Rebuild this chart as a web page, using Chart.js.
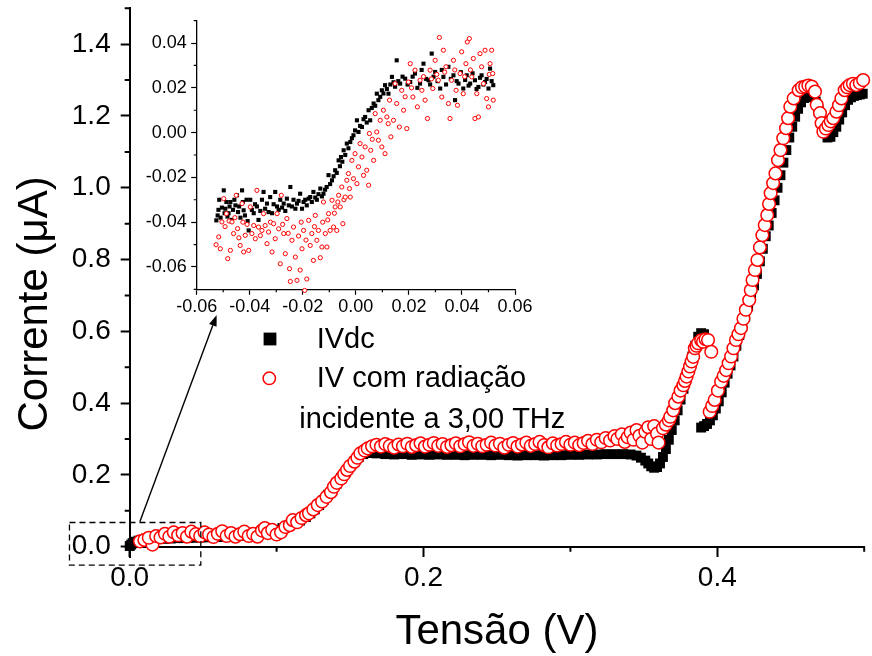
<!DOCTYPE html>
<html lang="pt">
<head>
<meta charset="utf-8">
<title>Corrente x Tensão</title>
<script src="https://cdn.jsdelivr.net/npm/chart.js@4.4.1/dist/chart.umd.min.js"></script>
<style>
  html, body { margin: 0; padding: 0; background: #ffffff; }
  #wrap { position: relative; width: 872px; height: 656px; }
  #mainChart, #insetChart { position: absolute; left: 0; top: 0; }
</style>
</head>
<body>
<div id="wrap">
  <canvas id="mainChart" width="872" height="656"></canvas>
  <canvas id="insetChart" width="545" height="330"></canvas>
</div>
<script>
/* ------------------------------------------------------------
   DADOS — curva I x V (V em volts, I em µA)
------------------------------------------------------------ */
const seriesNames = ['IVdc', 'IV com radiação', 'incidente a 3,00 THz'];

// IVdc — quadrados pretos (gráfico principal)
const ivdcPts = [
  [0.000,0.002],[0.001,0.006],[0.002,0.010],[0.004,0.014],[0.006,0.017],[0.009,0.019],[0.012,0.020],
  [0.016,0.021],[0.020,0.022],[0.024,0.022],[0.028,0.023],[0.032,0.024],[0.036,0.024],[0.040,0.025],
  [0.044,0.025],[0.048,0.026],[0.052,0.026],[0.056,0.027],[0.060,0.027],[0.064,0.028],[0.068,0.029],
  [0.072,0.030],[0.076,0.031],[0.080,0.033],[0.084,0.035],[0.088,0.037],[0.092,0.040],[0.096,0.043],
  [0.100,0.047],[0.104,0.052],[0.108,0.058],[0.112,0.065],[0.116,0.073],[0.120,0.083],[0.123,0.093],
  [0.126,0.104],[0.129,0.116],[0.132,0.130],[0.135,0.145],[0.138,0.160],[0.141,0.176],[0.144,0.192],
  [0.147,0.208],[0.150,0.224],[0.153,0.238],[0.156,0.250],[0.159,0.258],[0.163,0.261],[0.168,0.260],
  [0.174,0.258],[0.180,0.257],[0.186,0.258],[0.192,0.256],[0.198,0.257],[0.204,0.256],[0.210,0.257],
  [0.216,0.256],[0.222,0.256],[0.228,0.255],[0.234,0.256],[0.240,0.256],[0.246,0.255],[0.252,0.256],
  [0.258,0.255],[0.264,0.254],[0.270,0.255],[0.276,0.255],[0.282,0.254],[0.288,0.255],[0.294,0.255],
  [0.300,0.256],[0.306,0.256],[0.312,0.257],[0.318,0.257],[0.324,0.258],[0.330,0.258],[0.336,0.258],
  [0.341,0.257],[0.345,0.254],[0.348,0.248],[0.351,0.240],[0.353,0.232],[0.355,0.224],[0.357,0.220],
  [0.359,0.222],[0.361,0.232],[0.363,0.250],[0.365,0.272],[0.367,0.298],[0.369,0.325],[0.371,0.352],
  [0.373,0.380],[0.375,0.410],[0.377,0.440],[0.379,0.470],[0.381,0.500],[0.383,0.530],[0.385,0.560],
  [0.387,0.585],[0.389,0.595],[0.391,0.592],
  [0.389,0.332],[0.391,0.336],[0.393,0.342],[0.395,0.352],[0.397,0.366],[0.399,0.385],[0.401,0.405],
  [0.403,0.430],[0.405,0.457],[0.407,0.482],[0.409,0.505],[0.411,0.530],[0.413,0.560],[0.415,0.590],
  [0.417,0.615],[0.419,0.640],[0.421,0.670],[0.423,0.700],[0.425,0.728],[0.427,0.760],[0.429,0.795],
  [0.431,0.830],[0.433,0.865],[0.435,0.895],[0.437,0.930],[0.439,0.965],[0.441,1.000],[0.443,1.035],
  [0.445,1.070],[0.447,1.105],[0.449,1.140],[0.451,1.170],[0.453,1.198],[0.455,1.220],[0.457,1.238],
  [0.459,1.250],[0.461,1.255],[0.463,1.256],[0.465,1.252],[0.467,1.240],[0.469,1.215],[0.471,1.185],
  [0.473,1.155],[0.475,1.140],[0.477,1.142],[0.479,1.155],[0.481,1.170],[0.483,1.190],[0.485,1.210],
  [0.487,1.230],[0.489,1.245],[0.491,1.252],[0.493,1.256],[0.495,1.258],[0.497,1.260],[0.499,1.262],
];

// IV com radiação — círculos vermelhos (gráfico principal)
const ivRadPts = [
  [0.007,0.015],[0.010,0.019],[0.0155,0.006],[0.013,0.025],[0.018,0.030],[0.021,0.026],[0.024,0.036],
  [0.027,0.028],[0.030,0.040],[0.033,0.032],[0.036,0.038],[0.039,0.028],[0.042,0.042],[0.045,0.035],
  [0.048,0.030],[0.051,0.040],[0.054,0.034],[0.057,0.027],[0.060,0.036],[0.063,0.043],[0.066,0.030],
  [0.069,0.038],[0.072,0.028],[0.075,0.035],[0.078,0.042],[0.081,0.030],[0.084,0.036],[0.087,0.028],
  [0.090,0.045],[0.092,0.052],[0.094,0.038],[0.097,0.047],[0.100,0.034],[0.103,0.040],[0.106,0.055],
  [0.109,0.060],[0.111,0.074],[0.114,0.068],[0.117,0.080],[0.120,0.088],[0.122,0.093],[0.125,0.104],
  [0.128,0.116],[0.131,0.126],[0.134,0.139],[0.137,0.152],[0.139,0.167],[0.141,0.178],[0.144,0.190],
  [0.146,0.202],[0.148,0.214],[0.150,0.225],[0.153,0.237],[0.155,0.248],[0.157,0.260],[0.160,0.268],
  [0.162,0.274],[0.165,0.280],[0.168,0.284],[0.171,0.279],[0.174,0.286],[0.177,0.281],[0.180,0.276],
  [0.183,0.285],[0.186,0.280],[0.189,0.287],[0.192,0.278],[0.195,0.283],[0.198,0.288],[0.201,0.279],
  [0.204,0.284],[0.207,0.289],[0.210,0.281],[0.213,0.286],[0.216,0.278],[0.219,0.283],[0.222,0.288],
  [0.225,0.280],[0.228,0.286],[0.231,0.291],[0.234,0.281],[0.237,0.287],[0.240,0.280],[0.243,0.284],
  [0.246,0.290],[0.249,0.282],[0.252,0.287],[0.255,0.276],[0.258,0.284],[0.261,0.289],[0.264,0.279],
  [0.267,0.285],[0.270,0.290],[0.273,0.281],[0.276,0.286],[0.279,0.292],[0.282,0.283],[0.285,0.277],
  [0.288,0.288],[0.291,0.282],[0.294,0.286],[0.297,0.292],[0.300,0.284],[0.303,0.290],[0.306,0.283],
  [0.309,0.289],[0.312,0.295],[0.315,0.286],[0.318,0.298],[0.321,0.291],[0.324,0.303],[0.327,0.296],
  [0.330,0.308],[0.332,0.300],[0.335,0.313],[0.337,0.292],[0.339,0.305],[0.341,0.318],[0.343,0.298],
  [0.345,0.325],[0.347,0.309],[0.349,0.290],[0.351,0.320],[0.353,0.333],[0.355,0.300],[0.357,0.336],
  [0.359,0.315],[0.360,0.290],[0.363,0.330],[0.365,0.340],[0.367,0.352],[0.368,0.362],[0.370,0.380],
  [0.3713,0.400],[0.3735,0.418],[0.3750,0.435],[0.3769,0.450],[0.3780,0.462],[0.3791,0.474],
  [0.3803,0.488],[0.3814,0.502],[0.3825,0.516],[0.3836,0.529],[0.3847,0.553],[0.3858,0.560],
  [0.3869,0.567],[0.3890,0.575],[0.3903,0.571],[0.3920,0.578],[0.3937,0.576],[0.3959,0.543],
  [0.3948,0.376],[0.3965,0.392],[0.3982,0.409],[0.4004,0.435],[0.4026,0.460],[0.4043,0.476],
  [0.4060,0.492],[0.4077,0.511],[0.4094,0.530],[0.4110,0.553],[0.4127,0.576],[0.4144,0.592],
  [0.4161,0.609],[0.4178,0.635],[0.4194,0.660],[0.4217,0.687],[0.4228,0.715],[0.4240,0.743],
  [0.4256,0.771],[0.4273,0.799],[0.4290,0.834],[0.4307,0.868],[0.4323,0.896],[0.4340,0.924],
  [0.4352,0.955],[0.4363,0.985],[0.4380,1.013],[0.4396,1.040],[0.4413,1.077],[0.4430,1.105],
  [0.4449,1.138],[0.4468,1.166],[0.4482,1.194],[0.4497,1.226],[0.4520,1.249],[0.4554,1.272],
  [0.4576,1.280],[0.4598,1.282],[0.4620,1.285],[0.4643,1.282],[0.4665,1.268],[0.4677,1.231],
  [0.4699,1.208],[0.4710,1.180],[0.4722,1.156],[0.4739,1.165],[0.4756,1.175],[0.4772,1.185],
  [0.4789,1.194],[0.4811,1.212],[0.4828,1.230],[0.4845,1.249],[0.4867,1.272],[0.4884,1.280],
  [0.4901,1.286],[0.4923,1.290],[0.4946,1.286],[0.4970,1.292],[0.4993,1.300],
];

// Detalhe perto de V = 0 (gráfico inserido)
const insetDcPts = [
  [-0.0526,-0.0392],[-0.0521,-0.0370],[-0.0518,-0.0345],[-0.0515,-0.0300],[-0.0510,-0.0380],
  [-0.0505,-0.0335],[-0.0498,-0.0258],[-0.0495,-0.0360],[-0.0492,-0.0340],[-0.0488,-0.0310],
  [-0.0484,-0.0375],[-0.0480,-0.0360],[-0.0476,-0.0330],[-0.0473,-0.0310],[-0.0468,-0.0390],
  [-0.0463,-0.0345],[-0.0458,-0.0300],[-0.0454,-0.0325],[-0.0448,-0.0280],[-0.0444,-0.0355],
  [-0.0440,-0.0330],[-0.0435,-0.0380],[-0.0429,-0.0258],[-0.0426,-0.0310],[-0.0423,-0.0347],
  [-0.0418,-0.0370],[-0.0412,-0.0300],[-0.0408,-0.0395],[-0.0404,-0.0437],[-0.0398,-0.0300],
  [-0.0392,-0.0345],[-0.0385,-0.0360],[-0.0380,-0.0320],[-0.0373,-0.0330],[-0.0367,-0.0390],
  [-0.0360,-0.0350],[-0.0354,-0.0300],[-0.0348,-0.0265],[-0.0342,-0.0340],[-0.0335,-0.0317],
  [-0.0329,-0.0355],[-0.0323,-0.0288],[-0.0316,-0.0360],[-0.0310,-0.0320],[-0.0304,-0.0265],
  [-0.0297,-0.0330],[-0.0291,-0.0345],[-0.0285,-0.0300],[-0.0278,-0.0335],[-0.0272,-0.0317],
  [-0.0266,-0.0350],[-0.0260,-0.0295],[-0.0253,-0.0325],[-0.0247,-0.0243],[-0.0241,-0.0330],
  [-0.0235,-0.0300],[-0.0228,-0.0340],[-0.0222,-0.0317],[-0.0216,-0.0305],[-0.0210,-0.0273],
  [-0.0203,-0.0340],[-0.0197,-0.0310],[-0.0191,-0.0300],[-0.0185,-0.0325],[-0.0178,-0.0295],
  [-0.0172,-0.0288],[-0.0166,-0.0310],[-0.0160,-0.0265],[-0.0153,-0.0290],[-0.0147,-0.0300],
  [-0.0141,-0.0275],[-0.0134,-0.0250],[-0.0128,-0.0285],[-0.0122,-0.0273],[-0.0116,-0.0255],
  [-0.0110,-0.0243],[-0.0103,-0.0190],[-0.0097,-0.0230],[-0.0090,-0.0213],[-0.0084,-0.0195],
  [-0.0078,-0.0168],[-0.0072,-0.0180],[-0.0065,-0.0124],[-0.0060,-0.0150],[-0.0056,-0.0109],
  [-0.0051,-0.0130],[-0.0046,-0.0079],[-0.0040,-0.0100],[-0.0034,-0.0049],[-0.0028,-0.0070],
  [-0.0021,-0.0042],[-0.0015,-0.0025],[-0.0009,-0.0012],[-0.0003,0.0010],[0.0004,0.0055],
  [0.0010,0.0003],[0.0016,0.0030],[0.0023,0.0025],[0.0029,0.0060],[0.0035,0.0070],[0.0041,0.0045],
  [0.0048,0.0100],[0.0054,0.0055],[0.0060,0.0110],[0.0067,0.0130],[0.0073,0.0120],[0.0079,0.0174],
  [0.0085,0.0145],[0.0092,0.0160],[0.0098,0.0189],[0.0104,0.0175],[0.0110,0.0212],[0.0117,0.0195],
  [0.0123,0.0174],[0.0130,0.0215],[0.0136,0.0249],[0.0142,0.0225],[0.0148,0.0205],[0.0154,0.0323],
  [0.0160,0.0230],[0.0167,0.0219],[0.0176,0.0250],[0.0186,0.0241],[0.0195,0.0215],[0.0205,0.0226],
  [0.0214,0.0250],[0.0223,0.0264],[0.0232,0.0200],[0.0242,0.0219],[0.0248,0.0280],[0.0255,0.0308],
  [0.0265,0.0240],[0.0274,0.0234],[0.0280,0.0215],[0.0286,0.0353],[0.0293,0.0250],[0.0299,0.0271],
  [0.0308,0.0230],[0.0318,0.0197],[0.0324,0.0280],[0.0330,0.0249],[0.0340,0.0215],[0.0349,0.0294],
  [0.0358,0.0240],[0.0368,0.0256],[0.0374,0.0145],[0.0380,0.0230],[0.0387,0.0219],[0.0396,0.0270],
  [0.0405,0.0197],[0.0412,0.0235],[0.0418,0.0256],[0.0425,0.0210],[0.0431,0.0219],[0.0440,0.0265],
  [0.0449,0.0234],[0.0455,0.0195],[0.0462,0.0204],[0.0468,0.0245],[0.0474,0.0256],[0.0481,0.0215],
  [0.0487,0.0226],[0.0493,0.0240],[0.0500,0.0197],[0.0506,0.0286],[0.0512,0.0230],[0.0518,0.0212],
];

const insetRadPts = [
  [-0.0527,-0.0501],[-0.0517,-0.0466],[-0.0511,-0.0519],[-0.0505,-0.0399],[-0.0498,-0.0295],
  [-0.0493,-0.0420],[-0.0488,-0.0362],[-0.0483,-0.0563],[-0.0478,-0.0395],[-0.0473,-0.0526],
  [-0.0467,-0.0399],[-0.0461,-0.0451],[-0.0456,-0.0380],[-0.0451,-0.0280],[-0.0446,-0.0429],
  [-0.0441,-0.0470],[-0.0436,-0.0504],[-0.0429,-0.0317],[-0.0426,-0.0400],[-0.0423,-0.0533],
  [-0.0417,-0.0459],[-0.0410,-0.0410],[-0.0404,-0.0526],[-0.0398,-0.0332],[-0.0392,-0.0451],
  [-0.0385,-0.0415],[-0.0379,-0.0474],[-0.0373,-0.0258],[-0.0367,-0.0422],[-0.0360,-0.0460],
  [-0.0354,-0.0437],[-0.0348,-0.0362],[-0.0342,-0.0415],[-0.0335,-0.0496],[-0.0329,-0.0444],
  [-0.0322,-0.0400],[-0.0316,-0.0533],[-0.0310,-0.0407],[-0.0304,-0.0474],[-0.0297,-0.0362],
  [-0.0291,-0.0430],[-0.0285,-0.0586],[-0.0281,-0.0280],[-0.0276,-0.0410],[-0.0272,-0.0451],
  [-0.0266,-0.0541],[-0.0260,-0.0384],[-0.0255,-0.0450],[-0.0250,-0.0608],[-0.0247,-0.0665],
  [-0.0241,-0.0481],[-0.0235,-0.0422],[-0.0228,-0.0556],[-0.0222,-0.0660],[-0.0216,-0.0462],
  [-0.0210,-0.0614],[-0.0206,-0.0400],[-0.0203,-0.0519],[-0.0197,-0.0437],[-0.0193,-0.0705],
  [-0.0188,-0.0480],[-0.0185,-0.0654],[-0.0178,-0.0392],[-0.0172,-0.0504],[-0.0166,-0.0451],
  [-0.0160,-0.0571],[-0.0156,-0.0420],[-0.0153,-0.0370],[-0.0147,-0.0481],[-0.0141,-0.0437],
  [-0.0134,-0.0559],[-0.0128,-0.0511],[-0.0125,-0.0400],[-0.0122,-0.0310],[-0.0115,-0.0451],
  [-0.0109,-0.0511],[-0.0106,-0.0390],[-0.0103,-0.0362],[-0.0097,-0.0437],[-0.0090,-0.0302],
  [-0.0084,-0.0422],[-0.0081,-0.0360],[-0.0078,-0.0332],[-0.0072,-0.0437],[-0.0068,-0.0310],
  [-0.0065,-0.0280],[-0.0059,-0.0332],[-0.0053,-0.0243],[-0.0049,-0.0407],[-0.0045,-0.0300],
  [-0.0040,-0.0288],[-0.0034,-0.0213],[-0.0028,-0.0183],[-0.0024,-0.0250],[-0.0021,-0.0288],
  [-0.0015,-0.0124],[-0.0009,-0.0206],[-0.0003,-0.0094],[0.0004,-0.0228],[0.0010,-0.0153],
  [0.0016,-0.0049],[0.0023,-0.0109],[0.0029,-0.0191],[0.0035,-0.0064],[0.0041,-0.0168],
  [0.0048,-0.0235],[0.0051,-0.0004],[0.0056,-0.0079],[0.0062,-0.0030],[0.0067,-0.0124],
  [0.0073,0.0085],[0.0079,0.0003],[0.0085,-0.0034],[0.0092,0.0055],[0.0098,-0.0064],
  [0.0104,0.0100],[0.0110,-0.0094],[0.0117,0.0070],[0.0122,0.0040],[0.0127,0.0145],
  [0.0132,-0.0019],[0.0142,0.0055],[0.0148,0.0219],[0.0154,0.0130],[0.0164,0.0025],
  [0.0173,0.0189],[0.0180,0.0100],[0.0186,0.0160],[0.0192,0.0018],[0.0198,0.0226],
  [0.0205,0.0308],[0.0210,0.0200],[0.0215,0.0159],[0.0223,0.0279],[0.0232,0.0115],
  [0.0242,0.0234],[0.0249,0.0189],[0.0255,0.0250],[0.0261,0.0145],[0.0270,0.0063],
  [0.0280,0.0279],[0.0285,0.0240],[0.0290,0.0197],[0.0299,0.0323],[0.0305,0.0260],
  [0.0311,0.0234],[0.0315,0.0425],[0.0324,0.0159],[0.0330,0.0368],[0.0335,0.0270],
  [0.0340,0.0294],[0.0349,0.0130],[0.0355,0.0063],[0.0361,0.0234],[0.0368,0.0323],
  [0.0373,0.0280],[0.0378,0.0189],[0.0383,0.0122],[0.0393,0.0264],[0.0399,0.0361],
  [0.0405,0.0174],[0.0410,0.0250],[0.0415,0.0308],[0.0420,0.0405],[0.0428,0.0420],
  [0.0432,0.0280],[0.0437,0.0249],[0.0443,0.0331],[0.0449,0.0063],[0.0456,0.0174],
  [0.0462,0.0070],[0.0468,0.0353],[0.0474,0.0294],[0.0481,0.0219],[0.0487,0.0368],
  [0.0493,0.0152],[0.0500,0.0115],[0.0503,0.0260],[0.0506,0.0308],[0.0512,0.0368],
  [0.0516,0.0264],[0.0518,0.0145],
];

/* ------------------------------------------------------------
   EIXOS — marcas principais e secundárias
------------------------------------------------------------ */
const mainXTicks  = [0, 0.2, 0.4];
const mainXMinor  = [0.1, 0.3, 0.5];
const mainYTicks  = [0, 0.2, 0.4, 0.6, 0.8, 1.0, 1.2, 1.4];
const mainYMinor  = [0.1, 0.3, 0.5, 0.7, 0.9, 1.1, 1.3, 1.5];
const insetXTicks = [-0.06, -0.04, -0.02, 0, 0.02, 0.04, 0.06];
const insetXMinor = [-0.05, -0.03, -0.01, 0.01, 0.03, 0.05];
const insetYTicks = [-0.06, -0.04, -0.02, 0, 0.02, 0.04];
const insetYMinor = [-0.07, -0.05, -0.03, -0.01, 0.01, 0.03, 0.05];

// retângulo tracejado (região ampliada) e seta, em unidades dos eixos
const zoomBoxX  = [-0.041, 0.0484];
const zoomBoxY  = [-0.0513, 0.0675];
const arrowFrom = [0.0069, 0.0694];
const arrowTo   = [0.0592, 0.6456];

const FONT = "'Liberation Sans', Arial, sans-serif";

/* ------------------------------------------------------------
   HELPERS
------------------------------------------------------------ */
const toXY = pts => pts.map(([x, y]) => ({ x, y }));
const fixTicks = list => scale => { scale.ticks = list.map(v => ({ value: v })); };
const fmt = d => v => (Math.abs(v) < 1e-9 ? 0 : v).toFixed(d);

// marcas secundárias (mais curtas) desenhadas com as escalas do Chart.js
const minorTicksPlugin = {
  id: 'minorTicks',
  afterDraw(chart, args, opts) {
    const { ctx, chartArea, scales: { x, y } } = chart;
    const xAxisY = opts.xAt !== undefined ? y.getPixelForValue(opts.xAt) : chartArea.bottom;
    ctx.save();
    ctx.strokeStyle = '#000';
    ctx.lineWidth = opts.width;
    ctx.beginPath();
    opts.x.forEach(v => {
      const px = x.getPixelForValue(v);
      ctx.moveTo(px, xAxisY);
      ctx.lineTo(px, xAxisY + opts.len);
    });
    opts.y.forEach(v => {
      const py = y.getPixelForValue(v);
      ctx.moveTo(chartArea.left, py);
      ctx.lineTo(chartArea.left - opts.len, py);
    });
    ctx.stroke();
    ctx.restore();
  },
};

// retângulo tracejado, seta e legenda do gráfico principal
const marksPlugin = {
  id: 'marks',
  afterDraw(chart) {
    const { ctx, scales: { x, y } } = chart;
    ctx.save();
    ctx.strokeStyle = '#000';
    ctx.fillStyle = '#000';

    const bx0 = x.getPixelForValue(zoomBoxX[0]);
    const bx1 = x.getPixelForValue(zoomBoxX[1]);
    const by0 = y.getPixelForValue(zoomBoxY[0]);
    const by1 = y.getPixelForValue(zoomBoxY[1]);
    ctx.setLineDash([6, 4]);
    ctx.lineWidth = 1.3;
    ctx.strokeRect(bx0, by1, bx1 - bx0, by0 - by1);
    ctx.setLineDash([]);

    const ax0 = x.getPixelForValue(arrowFrom[0]), ay0 = y.getPixelForValue(arrowFrom[1]);
    const ax1 = x.getPixelForValue(arrowTo[0]),   ay1 = y.getPixelForValue(arrowTo[1]);
    const ang = Math.atan2(ay1 - ay0, ax1 - ax0);
    const c = Math.cos(ang), s = Math.sin(ang);
    const head = 11, half = 4;
    ctx.lineWidth = 1.4;
    ctx.beginPath();
    ctx.moveTo(ax0, ay0);
    ctx.lineTo(ax1 - head * c, ay1 - head * s);
    ctx.stroke();
    ctx.beginPath();
    ctx.moveTo(ax1, ay1);
    ctx.lineTo(ax1 - head * c + half * s, ay1 - head * s - half * c);
    ctx.lineTo(ax1 - head * c - half * s, ay1 - head * s + half * c);
    ctx.closePath();
    ctx.fill();

    // legenda
    ctx.fillRect(263.6, 332.6, 12.8, 12.8);
    ctx.beginPath();
    ctx.arc(269.3, 378.3, 6.2, 0, Math.PI * 2);
    ctx.fillStyle = '#ffffff';
    ctx.fill();
    ctx.lineWidth = 1.5;
    ctx.strokeStyle = '#ff0000';
    ctx.stroke();

    ctx.fillStyle = '#000';
    ctx.font = `29px ${FONT}`;
    ctx.textBaseline = 'alphabetic';
    ctx.textAlign = 'left';
    ctx.fillText(seriesNames[0], 316.7, 348.3);
    ctx.fillText(seriesNames[1], 316.7, 387.3);
    ctx.fillText(seriesNames[2], 299.3, 427.7);
    ctx.restore();
  },
};

/* ------------------------------------------------------------
   GRÁFICO PRINCIPAL
------------------------------------------------------------ */
new Chart(document.getElementById('mainChart').getContext('2d'), {
  type: 'scatter',
  data: {
    datasets: [
      {
        label: seriesNames[1],
        data: toXY(ivRadPts),
        order: 0,
        pointStyle: 'circle',
        pointRadius: 6.3,
        pointBorderWidth: 1.5,
        pointBorderColor: '#ff0000',
        pointBackgroundColor: '#ffffff',
        borderColor: '#ff0000',
        backgroundColor: '#ffffff',
        clip: false,
      },
      {
        label: seriesNames[0],
        data: toXY(ivdcPts),
        order: 1,
        pointStyle: 'rect',
        pointRadius: 7,
        pointBorderWidth: 0,
        pointBackgroundColor: '#000000',
        borderColor: '#000000',
        backgroundColor: '#000000',
        clip: false,
      },
    ],
  },
  options: {
    responsive: false,
    animation: false,
    events: [],
    // o eixo x fica em I = 0, por isso o espaço de baixo vem do padding
    layout: { padding: { top: 8.3, right: 0, bottom: 98.5, left: 0 } },
    plugins: {
      legend: { display: false },
      tooltip: { enabled: false },
      minorTicks: { x: mainXMinor, y: mainYMinor, len: 5, width: 2, xAt: 0 },
    },
    scales: {
      x: {
        type: 'linear',
        position: { y: 0 },
        min: 0,
        max: 0.5,
        afterBuildTicks: fixTicks(mainXTicks),
        afterFit: s => { s.height = 98.5; },
        border: { color: '#000', width: 2 },
        grid: { drawOnChartArea: false, drawTicks: true, tickLength: 9, tickWidth: 2, tickColor: '#000' },
        ticks: { color: '#000', font: { family: FONT, size: 28 }, padding: 6, maxRotation: 0, autoSkip: false, callback: fmt(1) },
        title: {
          display: true,
          text: 'Tensão (V)',
          color: '#000',
          font: { family: FONT, size: 42 },
          padding: { top: 0, bottom: -12 },
        },
      },
      y: {
        type: 'linear',
        position: 'left',
        min: -0.03,
        max: 1.5,
        afterBuildTicks: fixTicks(mainYTicks),
        afterFit: s => { s.width = 129.7; s.paddingTop = 0; s.paddingBottom = 0; },
        border: { color: '#000', width: 2 },
        grid: { drawOnChartArea: false, drawTicks: true, tickLength: 9, tickWidth: 2, tickColor: '#000' },
        ticks: { color: '#000', font: { family: FONT, size: 28 }, padding: 10, autoSkip: false, callback: fmt(1) },
        title: {
          display: true,
          text: 'Corrente (μA)\u2002\u2002',
          color: '#000',
          font: { family: FONT, size: 42 },
          padding: { top: 10, bottom: 0 },
        },
      },
    },
  },
  plugins: [minorTicksPlugin, marksPlugin],
});

/* ------------------------------------------------------------
   GRÁFICO INSERIDO (detalhe perto de 0 V)
------------------------------------------------------------ */
new Chart(document.getElementById('insetChart').getContext('2d'), {
  type: 'scatter',
  data: {
    datasets: [
      {
        label: seriesNames[1],
        data: toXY(insetRadPts),
        order: 0,
        pointStyle: 'circle',
        pointRadius: 2.1,
        pointBorderWidth: 1,
        pointBorderColor: '#ff0000',
        pointBackgroundColor: '#ffffff',
        borderColor: '#ff0000',
        backgroundColor: '#ffffff',
        clip: false,
      },
      {
        label: seriesNames[0],
        data: toXY(insetDcPts),
        order: 1,
        pointStyle: 'rect',
        pointRadius: 2.9,
        pointBorderWidth: 0,
        pointBackgroundColor: '#000000',
        borderColor: '#000000',
        backgroundColor: '#000000',
        clip: false,
      },
    ],
  },
  options: {
    responsive: false,
    animation: false,
    events: [],
    layout: { padding: { top: 20.7, right: 30, bottom: 0, left: 0 } },
    plugins: {
      legend: { display: false },
      tooltip: { enabled: false },
      minorTicks: { x: insetXMinor, y: insetYMinor, len: 3, width: 1.2 },
    },
    scales: {
      x: {
        type: 'linear',
        position: 'bottom',
        min: -0.06,
        max: 0.06,
        afterBuildTicks: fixTicks(insetXTicks),
        afterFit: s => { s.height = 40.7; },
        border: { color: '#000', width: 1.3 },
        grid: { drawOnChartArea: false, drawTicks: true, tickLength: 5.5, tickWidth: 1.2, tickColor: '#000' },
        ticks: { color: '#000', font: { family: FONT, size: 18 }, padding: 1, maxRotation: 0, autoSkip: false, callback: fmt(2) },
      },
      y: {
        type: 'linear',
        position: 'left',
        min: -0.07,
        max: 0.05,
        afterBuildTicks: fixTicks(insetYTicks),
        afterFit: s => { s.width = 196.7; s.paddingTop = 0; s.paddingBottom = 0; },
        border: { color: '#000', width: 1.3 },
        grid: { drawOnChartArea: false, drawTicks: true, tickLength: 5.5, tickWidth: 1.2, tickColor: '#000' },
        ticks: { color: '#000', font: { family: FONT, size: 18 }, padding: 4.5, autoSkip: false, callback: fmt(2) },
      },
    },
  },
  plugins: [minorTicksPlugin],
});
</script>
</body>
</html>
